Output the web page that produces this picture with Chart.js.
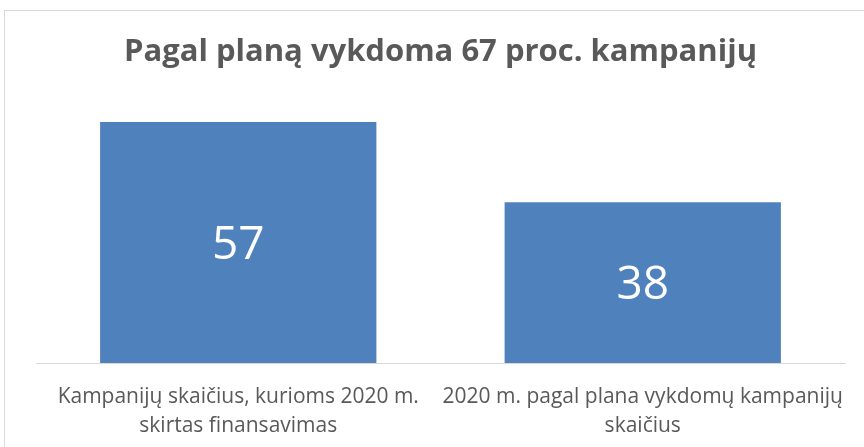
<!DOCTYPE html>
<html>
<head>
<meta charset="utf-8">
<script src="https://cdn.jsdelivr.net/npm/chart.js@4/dist/chart.umd.min.js"></script>
<style>
  html, body { margin: 0; padding: 0; background: #ffffff; }
  #wrap { position: relative; width: 864px; height: 447px; overflow: hidden; }
  #frame { position: absolute; left: 4px; top: 10px; width: 900px; height: 500px; border: 1px solid #d9d9d9; box-sizing: border-box; }
  canvas { position: absolute; left: 0; top: 0; }
</style>
</head>
<body>
<div id="wrap">
  <div id="frame"></div>
  <canvas id="c" width="864" height="447"></canvas>
</div>
<script>
const titleText = 'Pagal planą vykdoma 67 proc. kampanijų';
const categories = [
  ['Kampanijų skaičius, kurioms 2020 m.', 'skirtas finansavimas'],
  ['2020 m. pagal plana vykdomų kampanijų', 'skaičius']
];
const values = [57, 38];
const axisMax = 60;

const FONT = "'Open Sans', sans-serif";
const GREY = '#595959';

const valueLabels = {
  id: 'valueLabels',
  afterDatasetsDraw(chart) {
    const ctx = chart.ctx;
    const meta = chart.getDatasetMeta(0);
    const size = 46;
    ctx.save();
    ctx.fillStyle = '#ffffff';
    ctx.font = size + "px " + FONT;
    ctx.textAlign = 'center';
    ctx.textBaseline = 'alphabetic';
    meta.data.forEach((bar, i) => {
      const y = (bar.y + bar.base) / 2 + size * 0.714 / 2;
      ctx.fillText(String(values[i]), bar.x, y);
    });
    ctx.restore();
  }
};

new Chart(document.getElementById('c'), {
  type: 'bar',
  data: {
    labels: categories,
    datasets: [{
      data: values,
      backgroundColor: '#4F81BD',
      borderWidth: 0,
      categoryPercentage: 1.0,
      barPercentage: 0.683
    }]
  },
  options: {
    responsive: false,
    animation: false,
    layout: { padding: { left: 36, right: 19, top: 0, bottom: 0 } },
    plugins: {
      legend: { display: false },
      tooltip: { enabled: false },
      title: {
        display: true,
        text: titleText,
        color: GREY,
        font: { family: FONT, size: 31, weight: 'bold', lineHeight: 1.2 },
        padding: { top: 34, bottom: 38 }
      }
    },
    scales: {
      x: {
        grid: { display: false, drawTicks: false },
        border: { display: true, color: '#d9d9d9', width: 1 },
        ticks: {
          color: GREY,
          font: { family: FONT, size: 21, lineHeight: 1.38 },
          padding: 20,
          maxRotation: 0,
          autoSkip: false
        },
        afterFit(scale) {
          scale.height = 84;
          scale.paddingLeft = 0;
          scale.paddingRight = 0;
        }
      },
      y: {
        display: false,
        min: 0,
        max: axisMax
      }
    }
  },
  plugins: [valueLabels]
});
</script>
</body>
</html>
